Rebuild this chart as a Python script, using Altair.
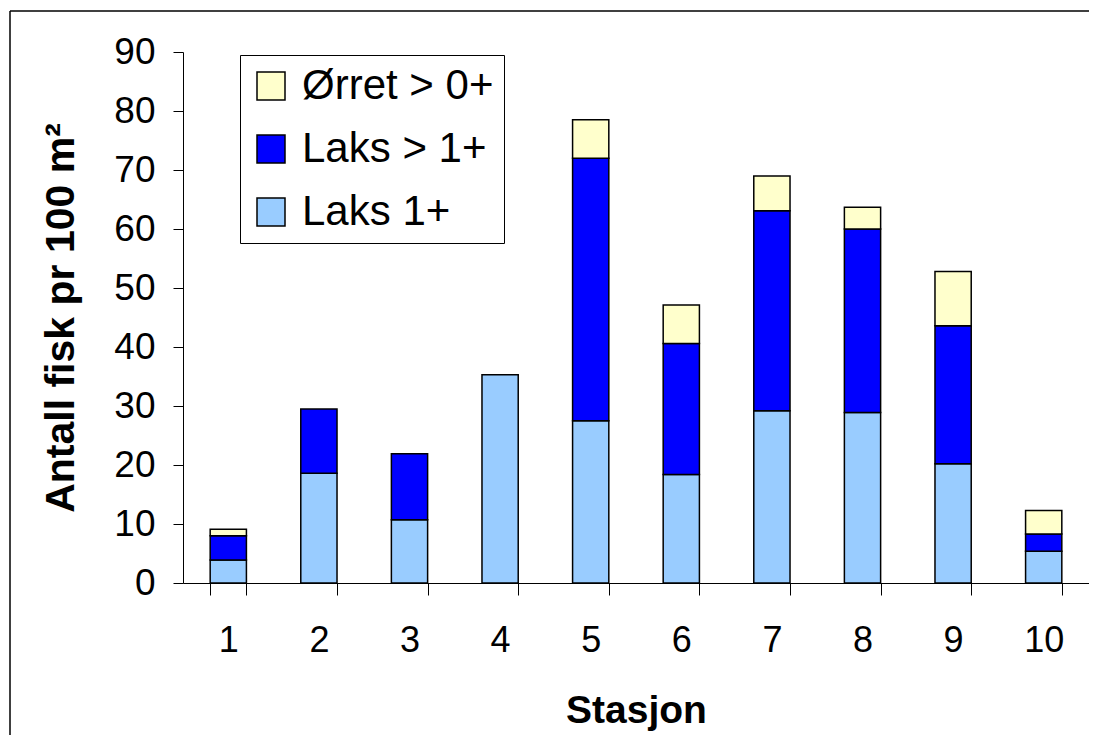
import altair as alt
import pandas as pd

stations = ["1", "2", "3", "4", "5", "6", "7", "8", "9", "10"]
laks1 = [3.9, 18.6, 10.7, 35.3, 27.5, 18.4, 29.2, 28.9, 20.2, 5.4]
laks_gt1 = [4.1, 10.9, 11.2, 0.0, 44.5, 22.2, 33.9, 31.1, 23.4, 2.9]
orret = [1.1, 0.0, 0.0, 0.0, 6.5, 6.5, 5.9, 3.7, 9.2, 4.0]

series_names = ["Ørret > 0+", "Laks > 1+", "Laks 1+"]
series_colors = ["#FFFFCC", "#0000FF", "#99CCFF"]

rows = []
for i, s in enumerate(stations):
    for name, vals, order in [("Laks 1+", laks1, 0), ("Laks > 1+", laks_gt1, 1), ("Ørret > 0+", orret, 2)]:
        if vals[i] > 0:
            rows.append({"Stasjon": s, "Serie": name, "Verdi": vals[i], "ord": order})
df = pd.DataFrame(rows)

FONT = "Liberation Sans"

bars = alt.Chart(df).mark_bar(stroke="black", strokeWidth=1.5).encode(
    x=alt.X(
        "Stasjon:N",
        sort=stations,
        scale=alt.Scale(paddingInner=0.6, paddingOuter=0.3),
        axis=alt.Axis(
            title="Stasjon",
            labelAngle=0,
            tickBand="extent",
            tickSize=12,
            tickColor="black",
            domainColor="black",
            labelFontSize=36,
            labelPadding=28,
            labelColor="black",
            titleFontSize=39,
            titleFontWeight="bold",
            titleBaseline="alphabetic",
            titleY=139,
            titleColor="black",
        ),
    ),
    y=alt.Y(
        "sum(Verdi):Q",
        stack="zero",
        scale=alt.Scale(domain=[0, 90], nice=False),
        axis=alt.Axis(
            title="Antall fisk pr 100 m²",
            values=list(range(0, 91, 10)),
            grid=False,
            tickSize=10,
            tickColor="black",
            domainColor="black",
            labelFontSize=37,
            labelPadding=18,
            labelColor="black",
            titleFontSize=41,
            titleFontWeight="bold",
            titleBaseline="alphabetic",
            titleX=-110,
            titleColor="black",
        ),
    ),
    color=alt.Color(
        "Serie:N",
        scale=alt.Scale(domain=series_names, range=series_colors),
        legend=alt.Legend(
            title=None,
            orient="none",
            legendX=57,
            legendY=3,
            strokeColor="black",
            fillColor="white",
            padding=10,
            symbolType="square",
            symbolSize=784,
            symbolStrokeColor="black",
            symbolStrokeWidth=1.5,
            symbolOpacity=1,
            labelFontSize=42,
            labelColor="black",
            labelOffset=10,
            rowPadding=21,
            labelLimit=400,
        ),
    ),
    order=alt.Order("ord:Q", sort="ascending"),
)

frame_top = alt.Chart(pd.DataFrame({"a": [0]})).mark_rule(
    stroke="black", strokeWidth=1.5
).encode(x=alt.value(-173), x2=alt.value(1000), y=alt.value(-41))

frame_left = alt.Chart(pd.DataFrame({"a": [0]})).mark_rule(
    stroke="black", strokeWidth=1.5
).encode(x=alt.value(-173), y=alt.value(-41), y2=alt.value(800))

chart = alt.layer(frame_top, frame_left, bars).properties(
    width=906,
    height=531,
    autosize=alt.AutoSizeParams(type="none"),
    padding={"left": 175, "top": 44, "right": 0, "bottom": 152},
).configure(font=FONT).configure_view(stroke=None)

chart.save("out.html", embed_options={"renderer": "svg", "actions": False})
